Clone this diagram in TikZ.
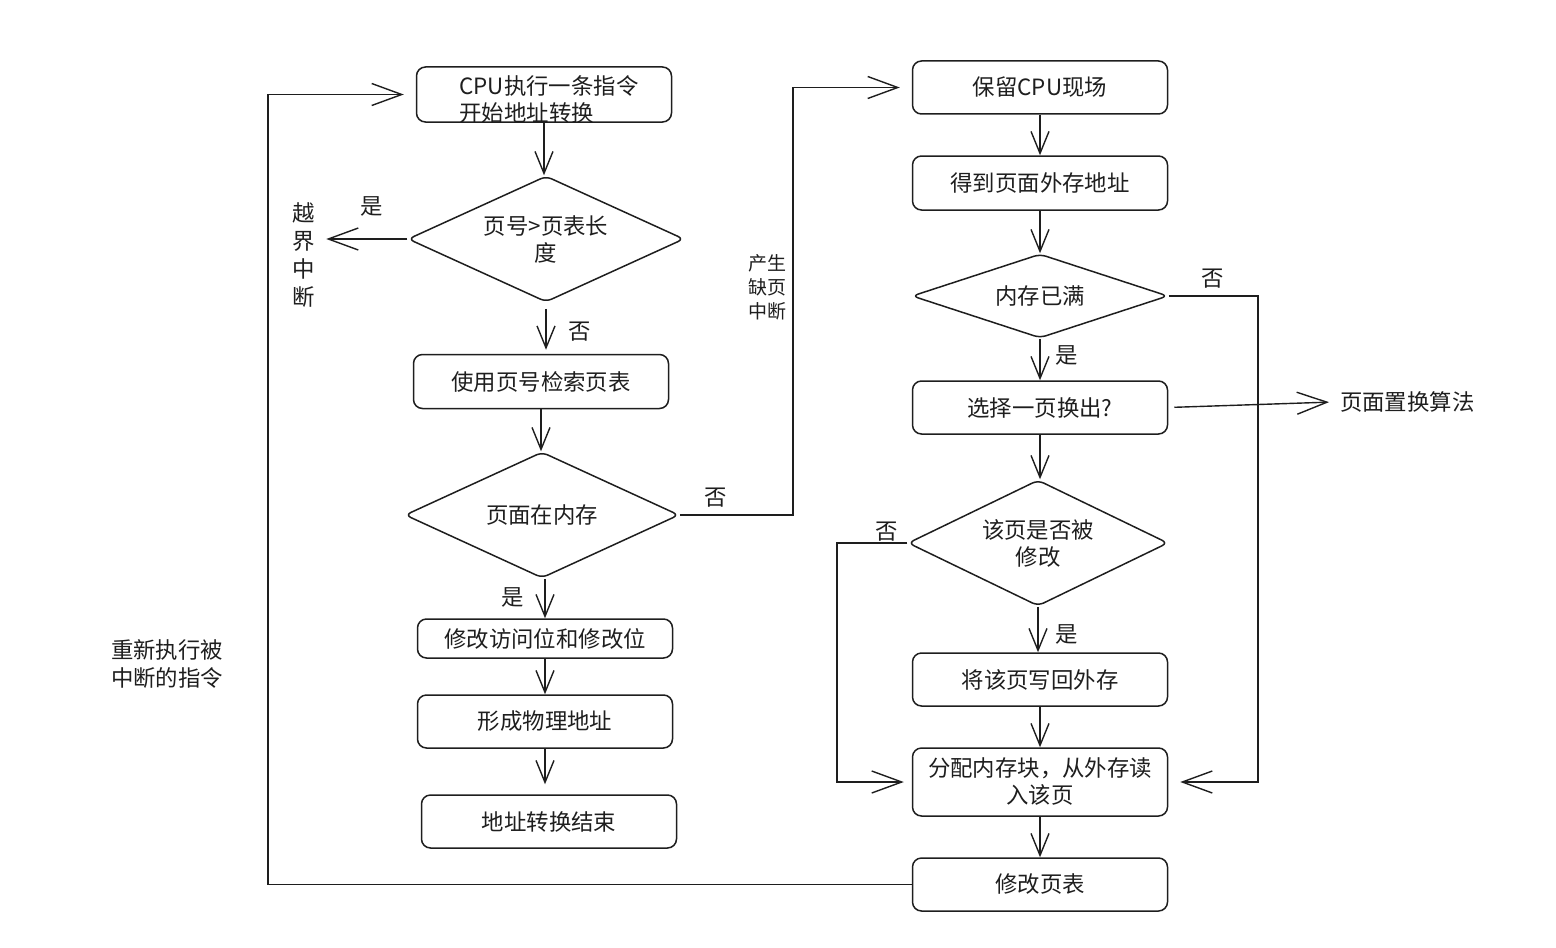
\documentclass[tikz,border=0pt]{standalone}
\usepackage{fontspec}
\newfontfamily\cjk{Noto Sans CJK SC}
\usetikzlibrary{shapes.geometric,arrows.meta}
\definecolor{ink}{HTML}{1E1E1E}
\begin{document}
\begin{tikzpicture}[x=0.5pt,y=-0.5pt,
  txt/.style={font=\cjk\fontsize{11.2}{13.5}\selectfont, text=ink, align=center},
  smalltxt/.style={font=\cjk\fontsize{9.5}{12}\selectfont, text=ink, align=center},
  box/.style={txt, draw=ink, line width=0.75pt, rounded corners=4.5pt, minimum width=127.5pt, minimum height=27pt, inner sep=0pt},
  dia/.style={txt, draw=ink, line width=0.75pt, diamond, rounded corners=3pt, inner sep=0pt},
  arr/.style={draw=ink, line width=0.7pt, -{Straight Barb[length=11pt,width=9pt]}},
  bigarr/.style={draw=ink, line width=0.7pt, -{Straight Barb[length=15pt,width=11pt]}},
]
\useasboundingbox (0,0) rectangle (1556,947);

% left column
\node[box, minimum height=27.5pt] (b1) at (544,94.5) {};
\node[txt, align=left, inner sep=0pt] (b1t) at (549,99.5) {CPU执行一条指令\\开始地址转换};
\node[dia, minimum width=138pt, minimum height=63pt, aspect=2.2] (d1) at (546,239) {页号>页表长\\度};
\node[box] (b2) at (541,381.5) {使用页号检索页表};
\node[dia, minimum width=137pt, minimum height=63pt, aspect=2.2] (d2) at (542,515) {页面在内存};
\node[box, minimum height=19.5pt] (b3) at (545,638.5) {修改访问位和修改位};
\node[box, minimum height=26.5pt] (b4) at (545,721.5) {形成物理地址};
\node[box, minimum height=26.5pt] (b5) at (549,821.5) {地址转换结束};

% right column
\node[box, minimum height=26.5pt] (r1) at (1040,87.5) {保留CPU现场};
\node[box] (r2) at (1040,183) {得到页面外存地址};
\node[dia, minimum width=128pt, minimum height=42pt, aspect=3] (d3) at (1040,296) {内存已满};
\node[box, minimum height=26.5pt] (r3) at (1040,407.5) {选择一页换出?};
\node[dia, minimum width=130pt, minimum height=63pt, aspect=2.1] (d4) at (1038,543) {该页是否被\\修改};
\node[box, minimum height=26.5pt] (r4) at (1040,679.5) {将该页写回外存};
\node[box, minimum height=34pt] (r5) at (1040,782) {分配内存块，从外存读\\入该页};
\node[box, minimum height=26.5pt] (r6) at (1040,884.5) {修改页表};

% labels
\node[txt, font=\cjk\fontsize{11.2}{14}\selectfont] (l1) at (304,255) {越\\界\\中\\断};
\node[txt] (l2) at (372,206) {是};
\node[txt] (l3) at (580,332) {否};
\node[txt] (l4) at (716,498) {否};
\node[txt] (l5) at (513,597) {是};
\node[smalltxt] (l6) at (767,287) {产生\\缺页\\中断};
\node[txt] (l7) at (1213,279) {否};
\node[txt] (l8) at (1067,355) {是};
\node[txt, anchor=west] (alg) at (1333,402) {页面置换算法};
\node[txt] (l9) at (887,532) {否};
\node[txt] (l10) at (1067,634) {是};
\node[txt, align=left, font=\cjk\fontsize{11.2}{14}\selectfont] (l11) at (167,664) {重新执行被\\中断的指令};

% helper coordinates
\coordinate (c1) at (268,500);
\coordinate (c2) at (793,300);
\coordinate (c3) at (1258,500);
\coordinate (c4) at (837,700);

% vertical arrows, left
\draw[arr] (b1.south) -- (b1.south |- d1.north);
\draw[arr, shorten <=3pt, shorten >=2pt] (d1.south) -- (d1.south |- b2.north);
\draw[arr] (b2.south) -- (b2.south |- d2.north);
\draw[arr] (b3.north |- d2.south) -- (b3.north);
\draw[arr] (b3.south) -- (b4.north);
\draw[arr, shorten >=5pt] (b4.south) -- (b4.south |- b5.north);

% vertical arrows, right
\draw[arr] (r1.south) -- (r2.north);
\draw[arr] (r2.south) -- (r2.south |- d3.north);
\draw[arr] (d3.south) -- (d3.south |- r3.north);
\draw[arr] (r3.south) -- (r3.south |- d4.north);
\draw[arr] (d4.south) -- (d4.south |- r4.north);
\draw[arr] (r4.south) -- (r5.north);
\draw[arr] (r5.south) -- (r6.north);

% side connectors
\draw[bigarr, shorten >=2pt] (d1.west) -- (d1.west -| l1.east);
\draw[bigarr, shorten >=6pt] (d2.east) -| (c2) |- (r1.west);
\draw[bigarr, shorten >=6pt] (d3.east) -| (c3) |- (r5.east);
\draw[bigarr, shorten <=3pt, shorten >=2pt] (r3.east) -- (alg.west);
\draw[bigarr, shorten >=4pt] (d4.west) -| (c4) |- (r5.west);
\draw[bigarr, shorten >=6pt] (r6.west) -| (c1) |- (b1.west);
\end{tikzpicture}
\end{document}
